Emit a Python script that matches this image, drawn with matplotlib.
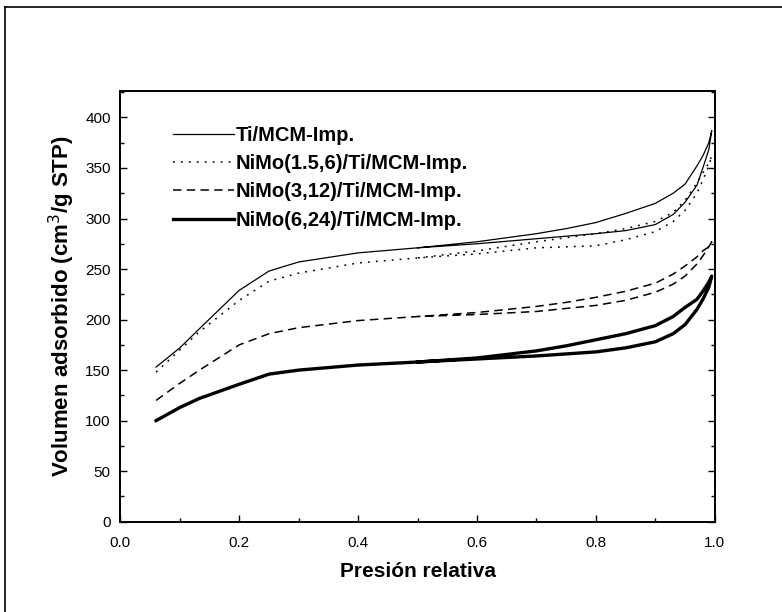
import matplotlib
matplotlib.use("Agg")
import matplotlib.pyplot as plt
from matplotlib.lines import Line2D
from matplotlib.ticker import MultipleLocator

plt.rcParams['font.family'] = ['Liberation Sans', 'DejaVu Sans']

# Relative pressure grids
p_ads = [0.06, 0.10, 0.133, 0.20, 0.25, 0.30, 0.40, 0.50, 0.60, 0.70, 0.80, 0.85, 0.90, 0.93, 0.95, 0.97, 0.98, 0.99, 0.995]
p_des = [0.995, 0.99, 0.98, 0.97, 0.95, 0.93, 0.90, 0.85, 0.80, 0.75, 0.70, 0.60, 0.50]

labels = ["Ti/MCM-Imp.", "NiMo(1.5,6)/Ti/MCM-Imp.", "NiMo(3,12)/Ti/MCM-Imp.", "NiMo(6,24)/Ti/MCM-Imp."]

ti_ads = [153, 172, 191, 229, 248, 257, 266, 271, 275, 280, 285, 288, 294, 304, 316, 333, 350, 368, 387]
ti_des = [387, 375, 362, 352, 334, 325, 315, 305, 296, 290, 285, 277, 271]

n15_ads = [148, 170, 188, 219, 238, 246, 256, 261, 265, 271, 273, 279, 287, 297, 308, 325, 338, 352, 362]
n15_des = [362, 355, 345, 335, 318, 306, 297, 290, 285, 281, 277, 268, 261]

n3_ads = [120, 137, 150, 175, 186, 192, 199, 203, 205, 208, 214, 219, 227, 235, 243, 255, 263, 272, 277]
n3_des = [277, 272, 268, 262, 253, 245, 236, 228, 222, 217, 213, 207, 203]

n6_ads = [100, 113, 122, 136, 146, 150, 155, 158, 161, 164, 168, 172, 178, 186, 195, 210, 220, 232, 243]
n6_des = [243, 237, 228, 220, 212, 203, 194, 186, 180, 174, 169, 162, 158]

fig = plt.figure(figsize=(7.82, 6.12), dpi=100)
ax = fig.add_axes([0.154, 0.1476, 0.914 - 0.154, 0.851 - 0.1476])

styles = [
    dict(color='black', lw=0.9, ls='-'),
    dict(color='black', lw=1.1, ls=(0, (1.2, 4.0))),
    dict(color='black', lw=1.1, ls=(0, (5.5, 3.5))),
    dict(color='black', lw=2.4, ls='-'),
]
series = [(ti_ads, ti_des), (n15_ads, n15_des), (n3_ads, n3_des), (n6_ads, n6_des)]

for (ads, des), st, lab in zip(series, styles, labels):
    ax.plot(p_ads + p_des, ads + des, label=lab, **st)

ax.set_xlim(0.0, 1.0)
ax.set_ylim(0, 426)
ax.xaxis.set_major_locator(MultipleLocator(0.2))
ax.xaxis.set_minor_locator(MultipleLocator(0.1))
ax.yaxis.set_major_locator(MultipleLocator(50))
ax.yaxis.set_minor_locator(MultipleLocator(25))
ax.set_xticks([0.0, 0.2, 0.4, 0.6, 0.8, 1.0])
ax.set_xticklabels(["0.0", "0.2", "0.4", "0.6", "0.8", "1.0"])
ax.tick_params(which='both', direction='in', right=True, top=False, labelsize=11, width=1.0)
ax.tick_params(which='major', length=5)
ax.tick_params(which='minor', length=3)
ax.tick_params(axis='x', which='major', pad=10)
ax.tick_params(axis='y', which='major', pad=7)
for s in ax.spines.values():
    s.set_linewidth(1.4)

ax.set_xlabel("Presión relativa", fontsize=15, fontweight='bold', labelpad=9)
ax.set_ylabel("Volumen adsorbido (cm$^3$/g STP)", fontsize=16, fontweight='bold', labelpad=6)

leg = ax.legend(loc='upper left', bbox_to_anchor=(0.075, 0.937), frameon=False,
                fontsize=14.5, handlelength=3.05, handletextpad=0.05,
                labelspacing=0.45, borderaxespad=0)
for t in leg.get_texts():
    t.set_fontweight('bold')

# outer frame of the scanned figure (left and top edges)
fig.add_artist(Line2D([5/782, 5/782], [0, 1 - 7/612], transform=fig.transFigure, color='black', lw=1.2))
fig.add_artist(Line2D([5/782, 1], [1 - 7/612, 1 - 7/612], transform=fig.transFigure, color='black', lw=1.2))

fig.savefig("out.png", dpi=100)
